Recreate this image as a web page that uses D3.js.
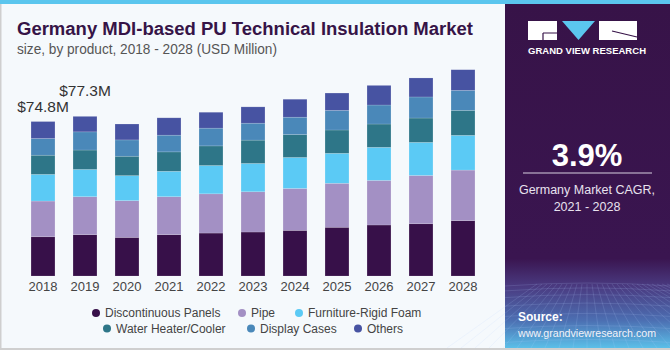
<!DOCTYPE html>
<html>
<head>
<meta charset="utf-8">
<script src="https://cdn.jsdelivr.net/npm/d3@7"></script>
<style>
  html, body { margin: 0; padding: 0; background: #fff; }
  svg { display: block; font-family: "Liberation Sans", Arial, sans-serif; }
</style>
</head>
<body>
<div id="chart"></div>
<script>
'use strict';

const years = ['2018', '2019', '2020', '2021', '2022', '2023', '2024', '2025', '2026', '2027', '2028'];
const seriesNames = ['Discontinuous Panels', 'Pipe', 'Furniture-Rigid Foam', 'Water Heater/Cooler', 'Display Cases', 'Others'];
const discontinuousPanels = [19.0, 20.0, 18.7, 20.0, 20.8, 21.3, 22.1, 23.6, 24.7, 25.3, 26.8];
const pipe = [17.3, 18.4, 17.8, 18.4, 19.0, 19.5, 20.3, 21.3, 21.6, 23.4, 24.5];
const furnitureRigidFoam = [12.9, 13.2, 12.1, 12.3, 13.7, 13.7, 15.0, 14.5, 16.0, 16.0, 16.8];
const waterHeaterCooler = [9.3, 9.4, 9.4, 9.4, 9.5, 11.3, 11.1, 11.3, 11.3, 11.8, 12.1];
const displayCases = [8.1, 8.8, 7.9, 8.1, 8.6, 8.2, 8.4, 9.5, 9.2, 10.2, 9.7];
const others = [8.2, 7.5, 7.7, 8.4, 7.7, 7.9, 8.7, 8.4, 9.5, 9.2, 10.0];
const totalLabels = [{ year: '2018', text: '$74.8M' }, { year: '2019', text: '$77.3M' }];
const colors = ['#371049', '#a390c4', '#5bcaf5', '#2e7688', '#4a88b9', '#4753a2'];

const seriesValues = [discontinuousPanels, pipe, furnitureRigidFoam, waterHeaterCooler, displayCases, others];
const table = years.map((yr, i) => {
  const row = { year: yr };
  seriesNames.forEach((s, j) => { row[s] = seriesValues[j][i]; });
  return row;
});

const W = 670, H = 350;
const svg = d3.select('#chart').append('svg')
    .attr('width', W)
    .attr('height', H);

const defs = svg.append('defs');

// background and frame
svg.append('rect').attr('width', W).attr('height', H).attr('fill', '#f5f9fc');
svg.append('rect').attr('x', 0).attr('y', 0).attr('width', W).attr('height', 4).attr('fill', '#5bc6ee');
svg.append('rect').attr('x', 0).attr('y', 4).attr('width', 1.5).attr('height', H - 4).attr('fill', '#cfcfcf');
svg.append('rect').attr('x', 0).attr('y', H - 2).attr('width', W).attr('height', 2).attr('fill', '#cfcfcf');

// title
svg.append('text')
    .attr('x', 17).attr('y', 35)
    .attr('font-size', 18).attr('font-weight', 900)
    .attr('fill', '#361447')
    .attr('textLength', 456).attr('lengthAdjust', 'spacingAndGlyphs')
    .text('Germany MDI-based PU Technical Insulation Market');

svg.append('text')
    .attr('x', 17).attr('y', 54)
    .attr('font-size', 14)
    .attr('fill', '#555')
    .attr('textLength', 260).attr('lengthAdjust', 'spacingAndGlyphs')
    .text('size, by product, 2018 - 2028 (USD Million)');

// scales
const x = d3.scaleBand()
    .domain(years)
    .range([22, 484])
    .paddingInner(0.43)
    .paddingOuter(0.215);

const y = d3.scaleLinear()
    .domain([0, 100])
    .range([276, 69.5]);

const stack = d3.stack().keys(seriesNames);
const stacked = stack(table);

const g = svg.append('g');

g.selectAll('.layer')
    .data(stacked)
  .enter().append('g')
    .attr('class', 'layer')
    .attr('fill', (d, i) => colors[i])
  .selectAll('rect')
    .data(d => d)
  .enter().append('rect')
    .attr('x', d => x(d.data.year))
    .attr('width', x.bandwidth())
    .attr('y', d => y(d[1]))
    .attr('height', d => y(d[0]) - y(d[1]))
    .attr('stroke', 'rgba(255,255,255,0.25)')
    .attr('stroke-width', 0.6);

// x axis
const xAxis = d3.axisBottom(x).tickSize(0).tickPadding(6);
const axisG = svg.append('g')
    .attr('transform', 'translate(0, 276)')
    .call(xAxis);
axisG.select('.domain').remove();
axisG.selectAll('text')
    .attr('font-size', 13)
    .attr('font-family', '"Liberation Sans", Arial, sans-serif')
    .attr('fill', '#444');

// total labels, staggered upwards
const total = yr => seriesValues.reduce((s, arr) => s + arr[years.indexOf(yr)], 0);
svg.selectAll('.total')
    .data(totalLabels)
  .enter().append('text')
    .attr('class', 'total')
    .attr('x', d => x(d.year) + x.bandwidth() / 2)
    .attr('y', (d, i) => y(total(d.year)) - 10 - i * 10)
    .attr('text-anchor', 'middle')
    .attr('font-size', 15.5)
    .attr('fill', '#333')
    .text(d => d.text);

// legend
const legendRows = [
  [{ i: 0, x: 96 }, { i: 1, x: 242 }, { i: 2, x: 299 }],
  [{ i: 3, x: 107 }, { i: 4, x: 251 }, { i: 5, x: 358 }]
];
const legendY = [313, 328.5];
legendRows.forEach((row, r) => {
  const lg = svg.append('g').attr('transform', `translate(0, ${legendY[r]})`);
  const item = lg.selectAll('g')
      .data(row)
    .enter().append('g')
      .attr('transform', d => `translate(${d.x}, 0)`);
  item.append('circle')
      .attr('r', 4)
      .attr('fill', d => colors[d.i]);
  item.append('text')
      .attr('x', 9)
      .attr('dy', '0.35em')
      .attr('font-size', 12)
      .attr('fill', '#444')
      .text(d => seriesNames[d.i]);
});

// right panel
const grad = defs.append('linearGradient')
    .attr('id', 'panelGrad')
    .attr('x1', 0).attr('y1', 0).attr('x2', 0).attr('y2', 1);
grad.append('stop').attr('offset', '0%').attr('stop-color', '#371348');
grad.append('stop').attr('offset', '74%').attr('stop-color', '#3a1550');
grad.append('stop').attr('offset', '82%').attr('stop-color', '#4a3a80');
grad.append('stop').attr('offset', '92%').attr('stop-color', '#4c6fb2');
grad.append('stop').attr('offset', '100%').attr('stop-color', '#5bbfe8');

const panel = svg.append('g').attr('transform', 'translate(505, 4)');
panel.append('rect')
    .attr('width', 165).attr('height', 344)
    .attr('fill', 'url(#panelGrad)');

// grid texture at the bottom of the panel
const gridG = panel.append('g')
    .attr('stroke', 'rgba(180,210,255,0.22)')
    .attr('stroke-width', 0.7)
    .attr('fill', 'none');
d3.range(0, 9).forEach(k => {
  const yy = 282 + k * k * 0.9 + k * 4;
  gridG.append('path').attr('d', `M0,${yy} Q82,${yy - 6} 165,${yy}`);
});
d3.range(-10, 22).forEach(k => {
  const x0 = 82 + k * 5;
  const x1 = 82 + k * 14;
  gridG.append('line').attr('x1', x0).attr('y1', 280).attr('x2', x1).attr('y2', 344);
});

// logo
const logo = panel.append('g');
logo.append('rect').attr('x', 23).attr('y', 17).attr('width', 29).attr('height', 19).attr('fill', '#fff');
logo.append('path').attr('d', 'M38,29 H52 M38,29 V36').attr('stroke', '#371348').attr('stroke-width', 1.2);
logo.append('path').attr('d', 'M57,17 H90 L73.5,36 Z').attr('fill', '#5bc6ee');
logo.append('rect').attr('x', 94).attr('y', 17).attr('width', 38).attr('height', 19).attr('fill', '#fff');
logo.append('path').attr('d', 'M107,27 L132,33').attr('stroke', '#371348').attr('stroke-width', 1.2);
logo.append('text')
    .attr('x', 23).attr('y', 50)
    .attr('font-size', 9.5).attr('font-weight', 700)
    .attr('fill', '#fff')
    .attr('textLength', 118).attr('lengthAdjust', 'spacing')
    .text('GRAND VIEW RESEARCH');

panel.append('text')
    .attr('x', 82).attr('y', 162)
    .attr('text-anchor', 'middle')
    .attr('font-size', 31).attr('font-weight', 700)
    .attr('fill', '#fff')
    .text('3.9%');
panel.append('line')
    .attr('x1', 18).attr('x2', 147)
    .attr('y1', 169).attr('y2', 169)
    .attr('stroke', '#d8d0e0').attr('stroke-width', 1);
panel.append('text')
    .attr('x', 82).attr('y', 190)
    .attr('text-anchor', 'middle')
    .attr('font-size', 12.5)
    .attr('fill', '#e8e2ee')
    .text('Germany Market CAGR,');
panel.append('text')
    .attr('x', 82).attr('y', 207)
    .attr('text-anchor', 'middle')
    .attr('font-size', 12.5)
    .attr('fill', '#e8e2ee')
    .text('2021 - 2028');

panel.append('text')
    .attr('x', 13).attr('y', 317)
    .attr('font-size', 12).attr('font-weight', 700)
    .attr('fill', '#fff')
    .text('Source:');
panel.append('text')
    .attr('x', 13).attr('y', 333)
    .attr('font-size', 11.5)
    .attr('fill', '#f2f2f8')
    .attr('textLength', 138).attr('lengthAdjust', 'spacingAndGlyphs')
    .text('www.grandviewresearch.com');
</script>
</body>
</html>
